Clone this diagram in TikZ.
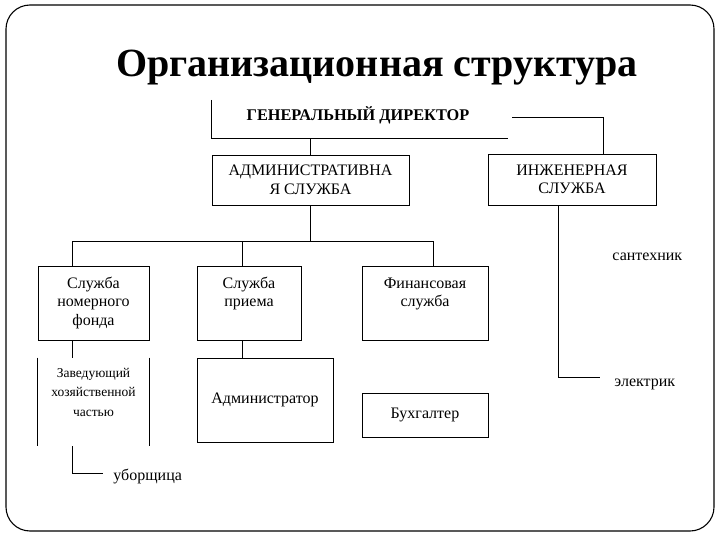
\documentclass[tikz,border=0pt]{standalone}
\usepackage{fontspec}
\setmainfont{Liberation Serif}
\usetikzlibrary{positioning,calc}

\begin{document}
\begin{tikzpicture}[x=1pt, y=-1pt, line width=0.9pt,
  blok/.style={draw, align=center, inner sep=0pt, font=\fontsize{16}{18.5}\selectfont},
  podpis/.style={inner sep=0pt, font=\fontsize{16}{18.5}\selectfont}]
  % рамка слайда
  \useasboundingbox (0,0) rectangle (720,540);
  \draw[line width=1.1pt, rounded corners=24pt] (6,5) rectangle (714,531);

  % заголовок
  \node[font=\bfseries\fontsize{40}{48}\selectfont] (title) at (377,68) {Организационная структура};

  % руководство
  \node[font=\bfseries\fontsize{16.3}{18}\selectfont] (dir) at (358,115) {ГЕНЕРАЛЬНЫЙ ДИРЕКТОР};
  \node[blok, minimum width=197, minimum height=50] (admin) at (310.5,180) {АДМИНИСТРАТИВНА\\Я СЛУЖБА};
  \node[blok, minimum width=168, minimum height=51] (inzh) at (572,179.5) {ИНЖЕНЕРНАЯ\\СЛУЖБА};

  % службы
  \node[blok, minimum width=111, minimum height=74] (nomer) at (93.5,303) {\strut Служба\\номерного\\фонда\strut};
  \node[blok, minimum width=104, minimum height=74] (priem) at (249,303) {\strut Служба\\приема\\\strut};
  \node[blok, minimum width=126, minimum height=74] (fin) at (425,303) {\strut Финансовая\\служба\\\strut};

  % сотрудники
  \node[align=center, inner sep=0pt, minimum width=111, minimum height=88,
        font=\fontsize{13.5}{19.5}\selectfont] (zav) at (93.5,402) {Заведующий\\хозяйственной\\частью\\~};
  \draw (zav.north west) -- (zav.south west);
  \draw (zav.north east) -- (zav.south east);
  \node[blok, minimum width=136, minimum height=84] (adm) at (265,400) {Администратор};
  \node[blok, minimum width=126, minimum height=44] (buh) at (425,415) {Бухгалтер};

  % связи от директора
  \coordinate (dtl) at (211,100);
  \coordinate (dbr) at (508,138);
  \coordinate (dtr) at (512,117);
  \coordinate (ir) at (603,117);
  \draw (dtl) |- (dbr);
  \draw (admin.north) -- (admin.north |- dbr);
  \draw (dtr) -- (ir) -- (ir |- inzh.north);

  % шина служб
  \coordinate (bus) at (310,241);
  \coordinate (nomtop) at ([xshift=35]nomer.north west);
  \coordinate (prtop) at ([xshift=46]priem.north west);
  \coordinate (fintop) at ([xshift=72]fin.north west);
  \draw (admin.south) -- (admin.south |- bus);
  \draw (nomtop) |- (fintop |- bus) -- (fintop);
  \draw (prtop) -- (prtop |- bus);

  % нижний уровень
  \coordinate (nombot) at ([xshift=35]nomer.south west);
  \coordinate (prbot) at ([xshift=46]priem.south west);
  \draw (nombot) -- (nombot |- zav.north);
  \draw (prbot) -- (prbot |- adm.north);

  \coordinate (zavbot) at ([xshift=35]zav.south west);
  \coordinate (ubend) at (103,473);
  \draw (zavbot) |- (ubend);
  \node[podpis, anchor=west] (uborsh) at (113,476) {уборщица};

  \coordinate (inbot) at ([xshift=71]inzh.south west);
  \coordinate (elend) at (600,377);
  \draw (inbot) |- (elend);
  \node[podpis, anchor=west] (santeh) at (612,257) {сантехник};
  \node[podpis, anchor=west] (elektr) at (614,384) {электрик};
\end{tikzpicture}
\end{document}
